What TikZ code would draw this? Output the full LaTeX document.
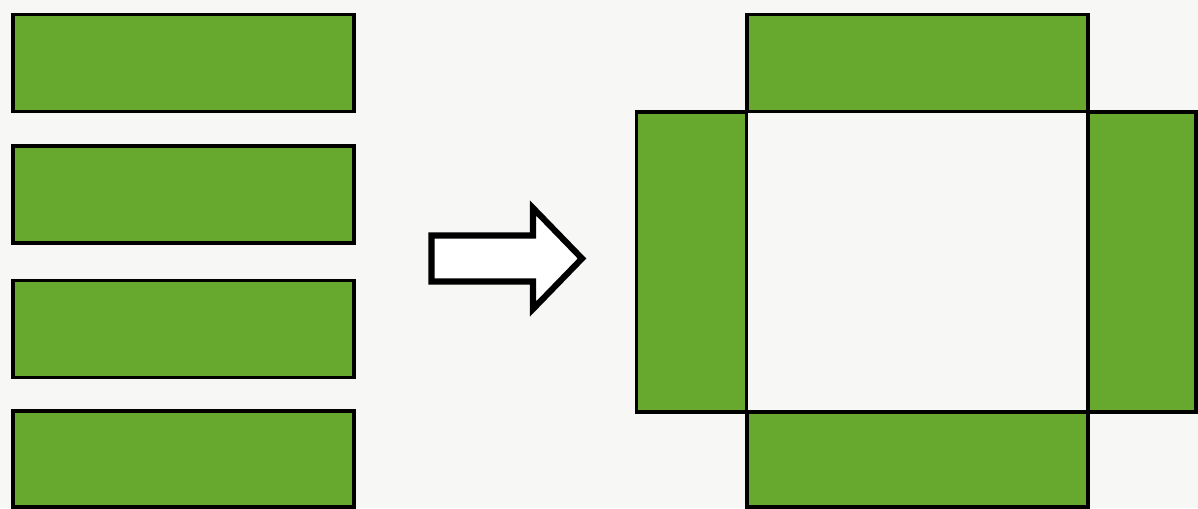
\documentclass[tikz,border=0pt]{standalone}
\usepackage{xcolor}
\usepackage{tikz}
\usetikzlibrary{positioning,calc}
\definecolor{stripcol}{HTML}{67A92F}
\definecolor{papercol}{HTML}{F7F7F6}

\begin{document}
\begin{tikzpicture}[x=0.02cm,y=-0.02cm,
   strip/.style={draw=black,fill=stripcol,line width=2pt,inner sep=0pt,
              outer sep=0pt,minimum width=6.82cm,minimum height=1.94cm},
   side/.style={strip,minimum width=2.2cm,minimum height=6cm},
   hollow/.style={draw=black,fill=white,line width=3.5pt,line join=miter},
]
\fill[papercol] (0,0) rectangle (1198,508);
\useasboundingbox (0,0) rectangle (1198,508);

% loose strips
\node[strip] (s1) at (183.5,63) {};
\node[strip] (s2) at (183.5,194.5) {};
\node[strip] (s3) at (183.5,329) {};
\node[strip,minimum height=1.92cm] (s4) at (183.5,459) {};

% arrow
\draw[hollow] (431.5,235.5) -- (533,235.5) -- (533,208) -- (582,258.5)
   -- (533,309) -- (533,281.5) -- (431.5,281.5) -- cycle;

% frame of strips
\node[strip] (top) at (917.5,63) {};
\node[side] (lft) at (691.5,262) {};
\node[side,minimum width=2.16cm] (rgt) at (1142,262) {};
\node[strip,minimum height=1.9cm] (bot) at (917.5,459.5) {};
\end{tikzpicture}
\end{document}
